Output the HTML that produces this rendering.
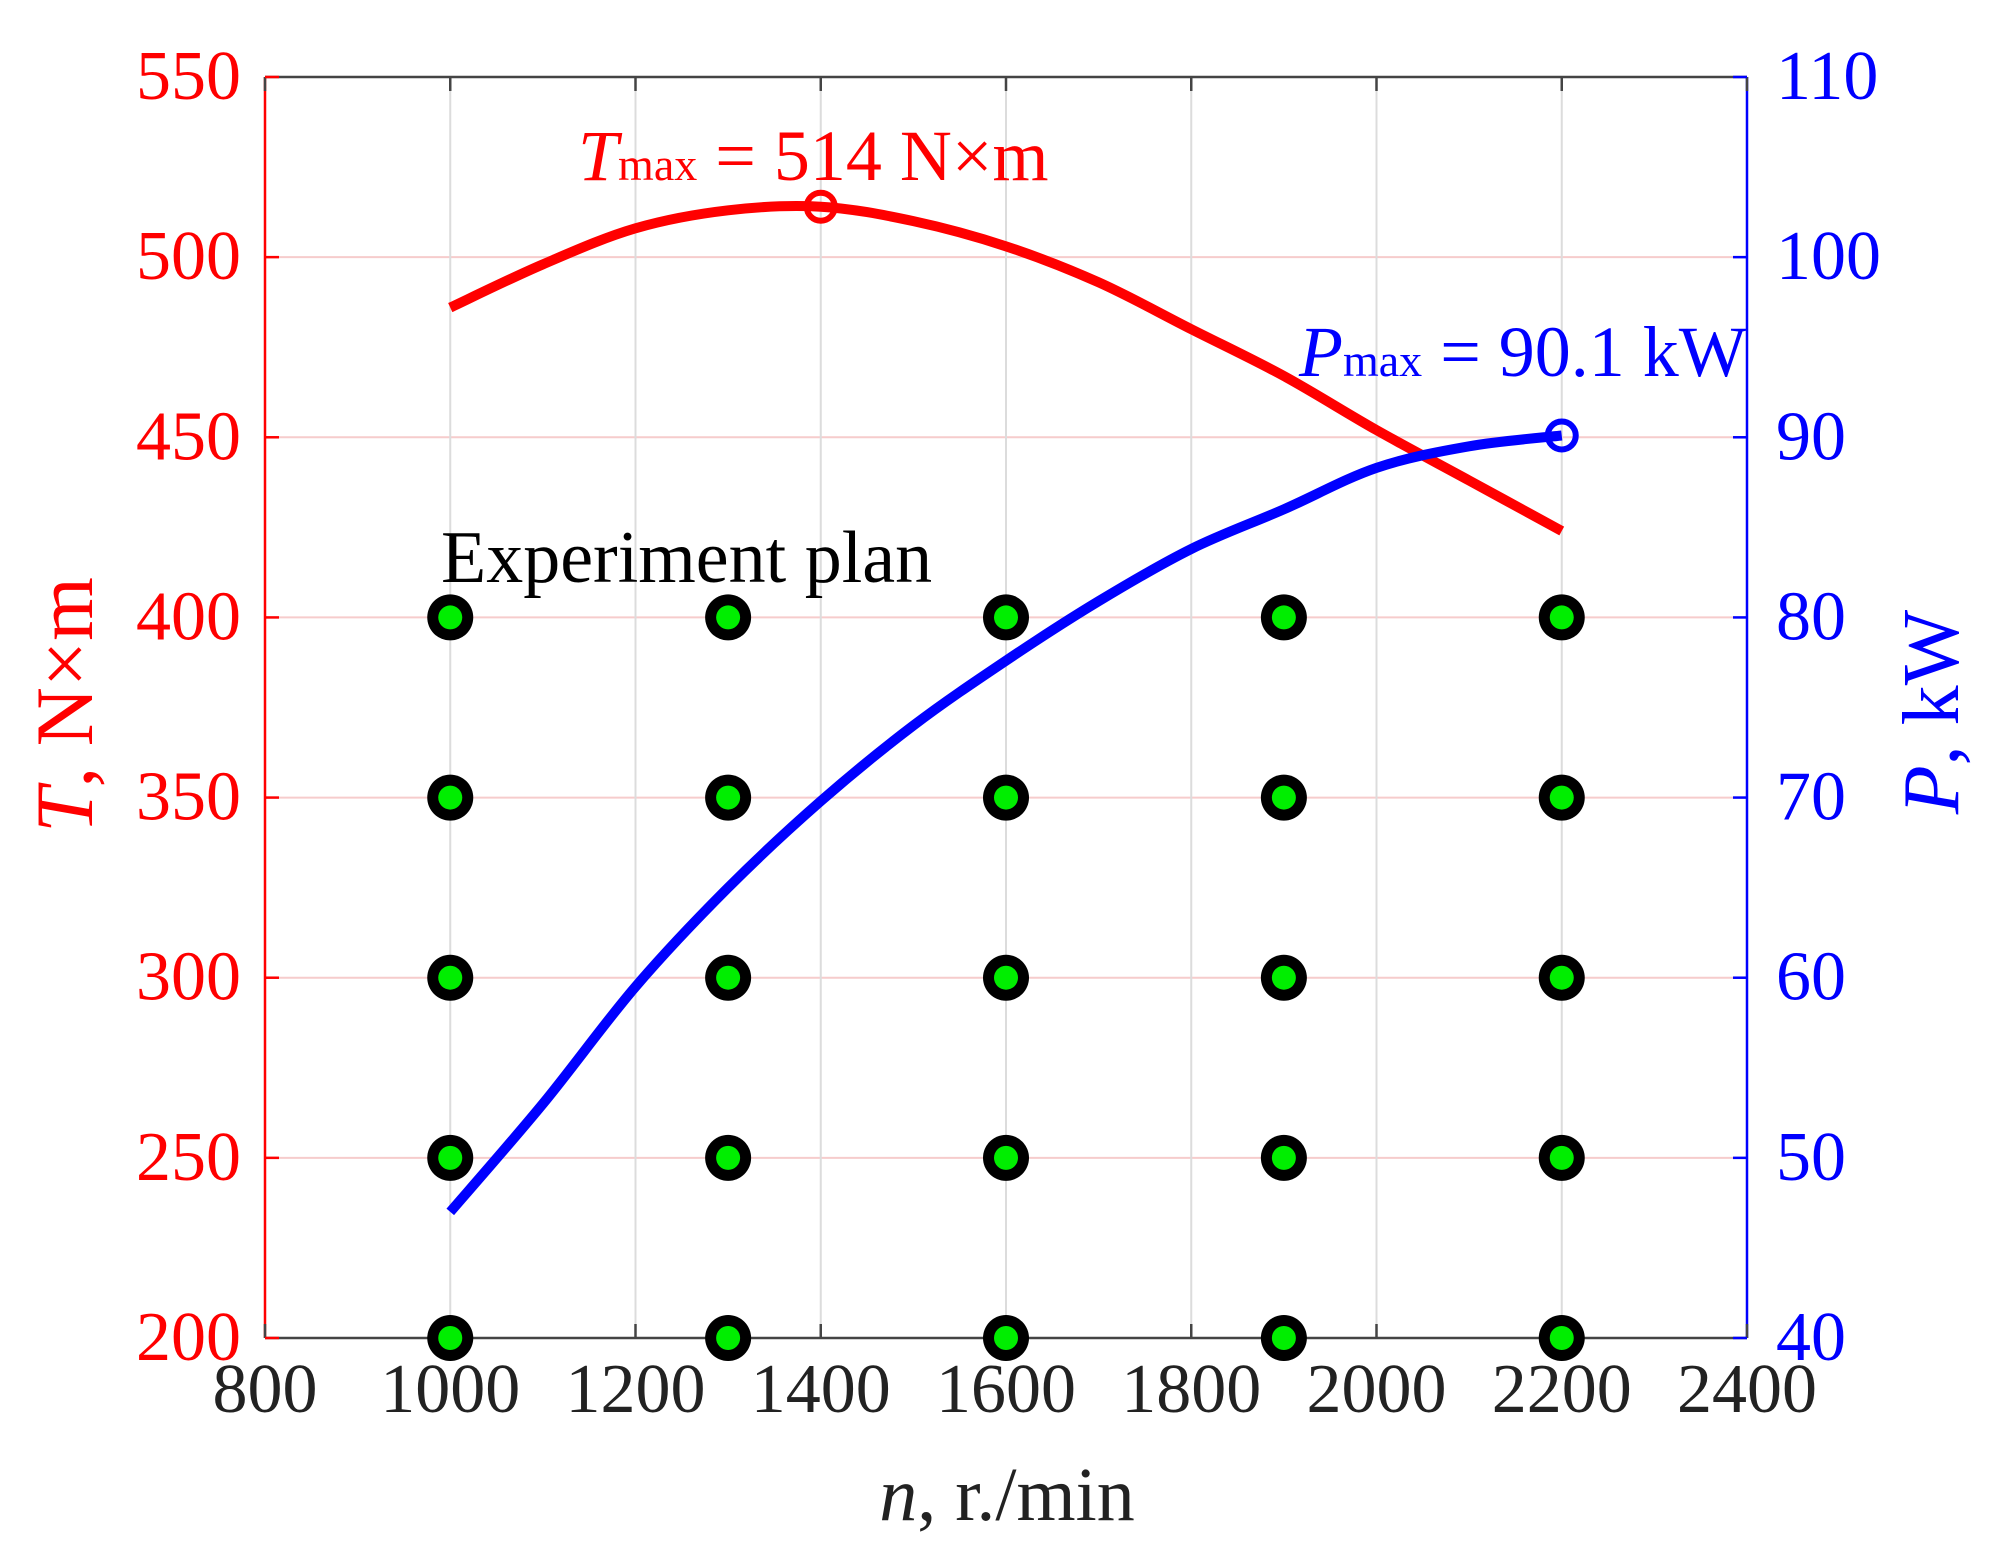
<!DOCTYPE html>
<html><head><meta charset="utf-8"><style>
html,body{margin:0;padding:0;background:#fff}
svg{display:block;font-family:"Liberation Serif",serif}
</style></head><body>
<svg id="chart" width="1996" height="1563" viewBox="0 0 1996 1563" xmlns="http://www.w3.org/2000/svg"></svg>
<script>
const xTicks = [800,1000,1200,1400,1600,1800,2000,2200,2400];
const tTicks = [200,250,300,350,400,450,500,550];
const pTicks = [40,50,60,70,80,90,100,110];
const speeds = [1000,1100,1200,1300,1400,1500,1600,1700,1800,1900,2000,2100,2200];
const torque = [486,498,508,513,514,510,503,493,480,467,452,438,424];
const power = [47,53,59.5,65,69.8,74,77.6,80.9,83.8,86,88.3,89.5,90.1];
const planSpeeds = [1000,1300,1600,1900,2200];
const planTorques = [200,250,300,350,400];
const tMax = [1400,514];
const pMax = [2200,90.1];

const L=265,R=1747,T=77,B=1338;
const X=v=>L+(v-800)/1600*(R-L);
const YT=v=>B-(v-200)/350*(B-T);
const YP=v=>B-(v-40)/70*(B-T);
const svg=document.getElementById('chart');
const NS='http://www.w3.org/2000/svg';
function mk(tag,attrs,parent){const e=document.createElementNS(NS,tag);for(const k in attrs)e.setAttribute(k,attrs[k]);(parent||svg).appendChild(e);return e;}
function smooth(pts){let d='M'+pts[0][0]+','+pts[0][1];for(let i=0;i<pts.length-1;i++){const p0=pts[i-1]||pts[i],p1=pts[i],p2=pts[i+1],p3=pts[i+2]||p2;
d+=' C'+(p1[0]+(p2[0]-p0[0])/6)+','+(p1[1]+(p2[1]-p0[1])/6)+' '+(p2[0]-(p3[0]-p1[0])/6)+','+(p2[1]-(p3[1]-p1[1])/6)+' '+p2[0]+','+p2[1];}return d;}

tTicks.forEach(v=>{const e=mk('line',{x1:L,x2:R,y1:YT(v),y2:YT(v),stroke:'#f6cccc','stroke-width':2});

});
xTicks.forEach(v=>{const e=mk('line',{x1:X(v),x2:X(v),y1:T,y2:B,stroke:'#dcdcdc','stroke-width':2});

});

let a;
a=mk('line',{x1:L,x2:R,y1:T,y2:T,stroke:'#444','stroke-width':2.5});
a=mk('line',{x1:L,x2:R,y1:B,y2:B,stroke:'#444','stroke-width':2.5});
a=mk('line',{x1:L,x2:L,y1:T,y2:B,stroke:'#ff0000','stroke-width':2.5});
a=mk('line',{x1:R,x2:R,y1:T,y2:B,stroke:'#0000ff','stroke-width':2.5});

xTicks.forEach(v=>{
 let e=mk('line',{x1:X(v),x2:X(v),y1:B,y2:B-14,stroke:'#444','stroke-width':2.5});
 
 
 e=mk('line',{x1:X(v),x2:X(v),y1:T,y2:T+14,stroke:'#444','stroke-width':2.5});
 
 
 e=mk('text',{x:X(v),y:1412,'text-anchor':'middle','font-size':70,fill:'#222'});e.textContent=v;
 
 
});
tTicks.forEach(v=>{
 let e=mk('line',{x1:L,x2:L+14,y1:YT(v),y2:YT(v),stroke:'#ff0000','stroke-width':2.5});
 
 
 e=mk('text',{x:241,y:YT(v)+22,'text-anchor':'end','font-size':70,fill:'#ff0000'});e.textContent=v;
 
 
});
pTicks.forEach(v=>{
 let e=mk('line',{x1:R,x2:R-14,y1:YP(v),y2:YP(v),stroke:'#0000ff','stroke-width':2.5});
 
 
 e=mk('text',{x:1776,y:YP(v)+22,'text-anchor':'start','font-size':70,fill:'#0000ff'});e.textContent=v;
 
 
});

let tl=mk('path',{d:smooth(speeds.map((s,i)=>[X(s),YT(torque[i])])),fill:'none',stroke:'#ff0000','stroke-width':10});


let pl=mk('path',{d:smooth(speeds.map((s,i)=>[X(s),YP(power[i])])),fill:'none',stroke:'#0000ff','stroke-width':10});



planSpeeds.forEach(s=>planTorques.forEach(t=>{
 let g=mk('g',{});
 
 
 mk('circle',{cx:X(s),cy:YT(t),r:23,fill:'#000'},g);
 mk('circle',{cx:X(s),cy:YT(t),r:12,fill:'#00ee00'},g);
}));

let m=mk('circle',{cx:X(tMax[0]),cy:YT(tMax[1]),r:14,fill:'none',stroke:'#ff0000','stroke-width':6});


m=mk('circle',{cx:X(pMax[0]),cy:YP(pMax[1]),r:14,fill:'none',stroke:'#0000ff','stroke-width':6});


</script>
<svg style="position:absolute;left:0;top:0" width="1996" height="1563" font-family="Liberation Serif, serif">
<text x="578" y="180" font-size="72" fill="#ff0000"><tspan font-style="italic">T</tspan><tspan font-size="46">max</tspan> = 514 N×m</text>
<text x="1299" y="376" font-size="72" fill="#0000ff"><tspan font-style="italic">P</tspan><tspan font-size="46">max</tspan> = 90.1 kW</text>
<text x="441" y="582" font-size="74" fill="#000">Experiment plan</text>
<text x="1007" y="1520" font-size="76" fill="#222" text-anchor="middle"><tspan font-style="italic">n</tspan>, r./min</text>
<text transform="translate(92,705) rotate(-90)" font-size="82" fill="#ff0000" text-anchor="middle"><tspan font-style="italic">T</tspan>, N×m</text>
<text transform="translate(1958,712) rotate(-90)" font-size="80" fill="#0000ff" text-anchor="middle"><tspan font-style="italic">P</tspan>, kW</text>
</svg>
</body></html>
